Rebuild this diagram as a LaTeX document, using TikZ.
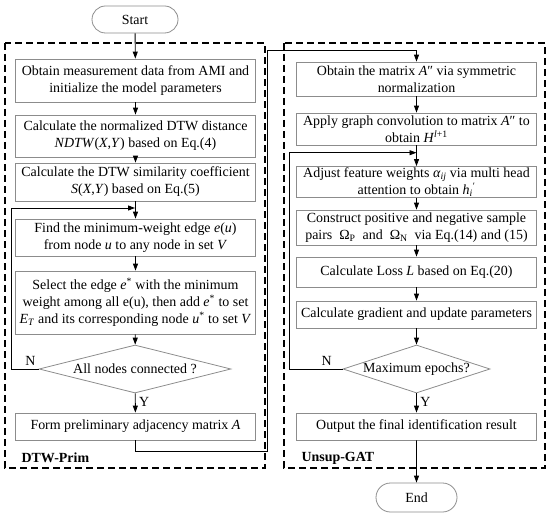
\documentclass[tikz,border=0pt]{standalone}
\usepackage{fontspec}
\setmainfont{Liberation Serif}
\usetikzlibrary{arrows.meta,shapes.geometric,shapes.misc}
\definecolor{boxgray}{HTML}{8C8C8C}

\begin{document}
\begin{tikzpicture}[x=1bp,y=-1bp,
  every node/.style={font=\fontsize{14}{17}\selectfont},
  proc/.style={draw=boxgray,line width=0.8bp,rectangle,align=center,inner sep=0pt,minimum width=240bp},
  term/.style={draw=boxgray,line width=0.8bp,rounded rectangle,inner sep=0pt},
  dec/.style={draw=boxgray,line width=0.8bp,diamond,inner sep=0pt,minimum height=48bp},
  arr/.style={-{Triangle[length=7bp,width=5bp]},line width=0.9bp},
  frame/.style={line width=1.4bp,dash pattern=on 7bp off 4bp}]
\useasboundingbox (0,0) rectangle (550,514);
\draw[frame] (5,43) rectangle (265,468);
\draw[frame] (284,43) rectangle (545,468);
\node[anchor=west,font=\fontsize{14}{17}\selectfont\bfseries] (lblprim) at (18,458) {DTW-Prim};
\node[anchor=west,font=\fontsize{14}{17}\selectfont\bfseries] (lblgat) at (298,458) {Unsup-GAT};

\node[term,minimum width=86bp,minimum height=27bp] (start) at (135,19.5) {Start};
\node[proc,minimum height=43bp] (l1) at (135.5,80.5) {Obtain measurement data from AMI and\\initialize the model parameters};
\node[proc,minimum height=42bp] (l2) at (135.5,136) {Calculate the normalized DTW distance\\\textit{NDTW}(\textit{X},\textit{Y}) based on Eq.(4)};
\node[proc,minimum height=38bp] (l3) at (135.5,182) {Calculate the DTW similarity coefficient\\\textit{S}(\textit{X},\textit{Y}) based on Eq.(5)};
\node[proc,minimum height=37bp] (l4) at (135.5,237.5) {Find the minimum-weight edge \textit{e}(\textit{u})\\from node \textit{u} to any node in set \textit{V}};
\node[proc,minimum height=63bp] (l5) at (135.5,302.5) {Select the edge \textit{e}\textsuperscript{*} with the minimum\\weight among all e(u), then add \textit{e}\textsuperscript{*} to set\\\textit{E}\textsubscript{\textit{T}} and its corresponding node \textit{u}\textsuperscript{*} to set \textit{V}};
\node[dec,minimum width=192bp] (d1) at (135,369) {\makebox[0pt]{All nodes connected ?}};
\node[proc,minimum height=27bp] (l6) at (135.5,426.5) {Form preliminary adjacency matrix \textit{A}};

\node[proc,minimum height=34bp] (r1) at (416.5,79) {Obtain the matrix \textit{A}″ via symmetric\\normalization};
\node[proc,minimum height=32bp] (r2) at (416.5,129) {Apply graph convolution to matrix \textit{A}″ to\\obtain \textit{H}\textsuperscript{\textit{l}+1}};
\node[proc,minimum height=31bp] (r3) at (416.5,182) {Adjust feature weights \textit{α}\textsubscript{\textit{ij}} via multi head\\attention to obtain \textit{h}\textsubscript{\textit{i}}\textsuperscript{′}};
\node[proc,minimum height=35bp] (r4) at (416.5,227.5) {Construct positive and negative sample\\pairs ~Ω\textsubscript{P}~ and ~Ω\textsubscript{N}~ via Eq.(14) and (15)};
\node[proc,minimum height=30bp] (r5) at (416.5,272) {Calculate Loss \textit{L} based on Eq.(20)};
\node[proc,minimum height=27bp] (r6) at (416.5,314.5) {Calculate gradient and update parameters};
\node[dec,minimum width=147bp] (d2) at (416.5,369) {\makebox[0pt]{Maximum epochs?}};
\node[proc,minimum height=27bp] (r7) at (416.5,426.5) {Output the final identification result};
\node[term,minimum width=81bp,minimum height=29bp] (end) at (416.5,497.5) {End};

\coordinate (lp1) at (135,208);
\coordinate (lp2) at (416.5,152.7);
\coordinate (jx) at (267,451);
\coordinate (jy) at (267,50);

\draw[arr] (start) -- (l1);
\draw[arr] (l1) -- (l2);
\draw[arr] (l2) -- (l3);
\draw[arr] (l3) -- (l4);
\draw[arr] (l4) -- (l5);
\draw[arr] (l5) -- (d1);
\draw[arr] (d1) -- node[right,pos=0.45] {Y} (l6);
\draw[arr] (d1.west) -- node[above,pos=0.3] {N} ++(-27,0) |- (lp1);
\draw[arr] (l6.south) |- (jx) -- (jy) -| (r1.north);

\draw[arr] (r1) -- (r2);
\draw[arr] (r2) -- (r3);
\draw[arr] (r3) -- (r4);
\draw[arr] (r4) -- (r5);
\draw[arr] (r5) -- (r6);
\draw[arr] (r6) -- (d2);
\draw[arr] (d2) -- node[right,pos=0.45] {Y} (r7);
\draw[arr] (d2.west) -- node[above,pos=0.3] {N} ++(-53,0) |- (lp2);
\draw[arr] (r7) -- (end);
\end{tikzpicture}
\end{document}
